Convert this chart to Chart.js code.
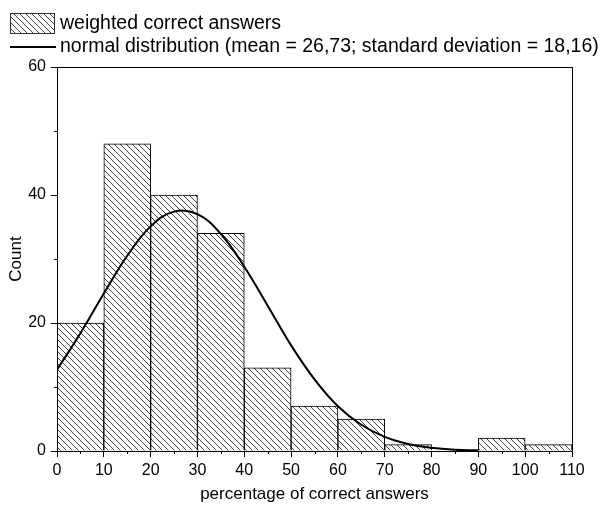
<!DOCTYPE html>
<html>
<head>
<meta charset="utf-8">
<script src="https://cdn.jsdelivr.net/npm/chart.js@4.4.1/dist/chart.umd.min.js"></script>
<style>
  body { margin: 0; background: #fff; }
  canvas { display: block; }
</style>
</head>
<body>
<canvas id="histChart" width="602" height="505"></canvas>
<script>
// bins (left edges) and counts of the histogram
const binStarts = [0, 10, 20, 30, 40, 50, 60, 70, 80, 90, 100];
const binCounts = [20, 48, 40, 34, 13, 7, 5, 1, 0, 2, 1];
const binWidth = 10;

// fitted normal curve
const curveX = [0, 5, 10, 15, 20, 25, 30, 35, 40, 45, 50, 55, 60, 65, 70, 75, 80, 85, 90];
const curveY = [12.7, 18.4, 24.6, 30.5, 35.1, 37.4, 37.0, 33.9, 28.8, 22.7, 16.5, 11.2, 7.0, 4.1, 2.2, 1.1, 0.5, 0.2, 0.1];

const xTicks = [0, 10, 20, 30, 40, 50, 60, 70, 80, 90, 100, 110];
const yTicks = [0, 20, 40, 60];

const barLabel = "weighted correct answers";
const lineLabel = "normal distribution (mean = 26,73; standard deviation = 18,16)";

const FONT = '"Liberation Sans", Arial, sans-serif';

// hatch pattern "\\\\"
function makeHatch() {
  const s = 6;
  const c = document.createElement("canvas");
  c.width = s;
  c.height = s;
  const g = c.getContext("2d");
  g.fillStyle = "#fff";
  g.fillRect(0, 0, s, s);
  g.strokeStyle = "#444";
  g.lineWidth = 1;
  g.beginPath();
  for (let k = -1; k <= 1; k++) {
    g.moveTo(k * s, 0);
    g.lineTo(k * s + s, s);
  }
  g.stroke();
  return g.createPattern(c, "repeat");
}

document.addEventListener("DOMContentLoaded", function () {
  const ctx = document.getElementById("histChart").getContext("2d");
  const hatch = makeHatch();

  // frame, minor ticks and legend drawn by hand
  const extras = {
    id: "extras",
    afterDraw(chart) {
      const c = chart.ctx;
      const a = chart.chartArea;
      const xs = chart.scales.x;
      const ys = chart.scales.y;
      c.save();
      c.strokeStyle = "#000";
      c.lineWidth = 1;
      c.strokeRect(Math.round(a.left) + 0.5, Math.round(a.top) + 0.5, Math.round(a.right - a.left), Math.round(a.bottom - a.top));

      // minor ticks
      c.beginPath();
      for (let v = 5; v < 110; v += 10) {
        const px = Math.round(xs.getPixelForValue(v)) + 0.5;
        c.moveTo(px, a.bottom);
        c.lineTo(px, a.bottom + 3);
      }
      for (let v = 10; v < 60; v += 20) {
        const py = Math.round(ys.getPixelForValue(v)) + 0.5;
        c.moveTo(a.left, py);
        c.lineTo(a.left - 3, py);
      }
      c.stroke();

      // legend
      c.fillStyle = hatch;
      c.fillRect(10, 13, 44, 20);
      c.strokeStyle = "#333";
      c.strokeRect(10.5, 13.5, 44, 20);
      c.strokeStyle = "#000";
      c.lineWidth = 2;
      c.beginPath();
      c.moveTo(10, 47);
      c.lineTo(56, 47);
      c.stroke();
      c.fillStyle = "#000";
      c.font = "19.5px " + FONT;
      c.textBaseline = "middle";
      c.textAlign = "left";
      c.fillText(barLabel, 60, 24);
      c.fillText(lineLabel, 60, 47);
      c.restore();
    }
  };

  new Chart(ctx, {
    type: "bar",
    data: {
      datasets: [
        {
          type: "line",
          label: lineLabel,
          data: curveX.map((x, i) => ({ x: x, y: curveY[i] })),
          borderColor: "#000",
          borderWidth: 2,
          pointRadius: 0,
          tension: 0.4,
          fill: false,
          order: 0
        },
        {
          type: "bar",
          label: barLabel,
          data: binStarts.map((x, i) => ({ x: x + binWidth / 2, y: binCounts[i] })),
          backgroundColor: hatch,
          borderColor: "#000",
          borderWidth: 1,
          barPercentage: 1,
          categoryPercentage: 1,
          order: 1
        }
      ]
    },
    options: {
      responsive: false,
      animation: false,
      layout: { padding: { top: 67, right: 30, left: 0, bottom: 0 } },
      plugins: {
        legend: { display: false },
        tooltip: { enabled: false }
      },
      scales: {
        x: {
          type: "linear",
          offset: false,
          min: 0,
          max: 110,
          afterBuildTicks: function (scale) {
            scale.ticks = xTicks.map(v => ({ value: v }));
          },
          afterFit: function (scale) { scale.height = 54; },
          ticks: { color: "#000", font: { family: FONT, size: 16 }, padding: 4, maxRotation: 0 },
          grid: { drawOnChartArea: false, offset: false, tickLength: 6, color: "#000" },
          border: { color: "#000" },
          title: {
            display: true,
            text: "percentage of correct answers",
            color: "#000",
            font: { family: FONT, size: 17 },
            padding: { top: 4, bottom: 0 }
          }
        },
        y: {
          min: 0,
          max: 60,
          afterBuildTicks: function (scale) {
            scale.ticks = yTicks.map(v => ({ value: v }));
          },
          afterFit: function (scale) { scale.width = 57; },
          ticks: { color: "#000", font: { family: FONT, size: 16 }, padding: 5 },
          grid: { drawOnChartArea: false, tickLength: 6, color: "#000" },
          border: { color: "#000" },
          title: {
            display: true,
            text: "Count",
            color: "#000",
            font: { family: FONT, size: 17 },
            padding: { top: 6, bottom: 0 }
          }
        }
      }
    },
    plugins: [extras]
  });
});
</script>
</body>
</html>
